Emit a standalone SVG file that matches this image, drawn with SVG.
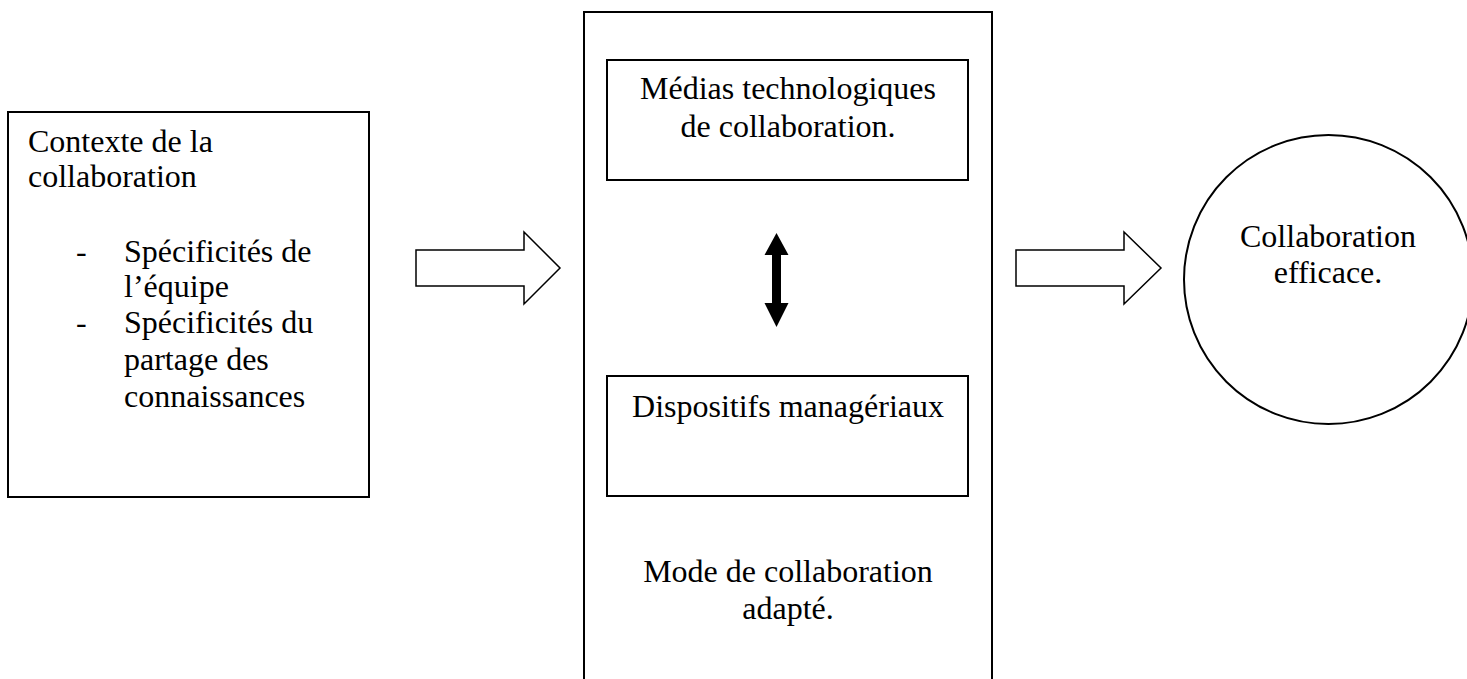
<svg xmlns="http://www.w3.org/2000/svg" width="1467" height="679" viewBox="0 0 1467 679">
<style>
.box{fill:#fff;stroke:#000;stroke-width:2}
.t{font-family:"Liberation Serif","Times New Roman",serif;font-size:32px;fill:#000}
.c{text-anchor:middle}
.hollow{fill:#fff;stroke:#000;stroke-width:1.5;stroke-linejoin:miter}
</style>
<rect width="1467" height="679" fill="#fff"/>
<g id="contexte">
<rect class="box" x="8" y="112" width="361" height="385"/>
<text class="t" x="28" y="152">Contexte de la</text>
<text class="t" x="28" y="187">collaboration</text>
<text class="t" x="76" y="262">-</text>
<text class="t" x="124" y="262">Spécificités de</text>
<text class="t" x="124" y="297">l’équipe</text>
<text class="t" x="76" y="333">-</text>
<text class="t" x="124" y="333">Spécificités du</text>
<text class="t" x="124" y="370">partage des</text>
<text class="t" x="124" y="407">connaissances</text>
</g>
<g id="mode">
<rect class="box" x="584" y="12" width="408" height="700"/>
<text class="t c" x="788" y="582">Mode de collaboration</text>
<text class="t c" x="788" y="619">adapté.</text>
</g>
<g id="medias">
<rect class="box" x="607" y="60" width="361" height="120"/>
<text class="t c" x="788" y="99">Médias technologiques</text>
<text class="t c" x="788" y="137">de collaboration.</text>
</g>
<g id="dispositifs">
<rect class="box" x="607" y="376" width="361" height="120"/>
<text class="t c" x="788" y="417">Dispositifs managériaux</text>
</g>
<g id="resultat">
<ellipse class="box" cx="1328.5" cy="279.5" rx="144.5" ry="144.5"/>
<text class="t c" x="1328" y="247">Collaboration</text>
<text class="t c" x="1328" y="283">efficace.</text>
</g>
<g id="connectors">
<polygon class="hollow" points="416,250 524,250 524,232 560,268 524,304 524,286 416,286"/>
<polygon class="hollow" points="1016,250 1124,250 1124,232 1161,268 1124,304 1124,286 1016,286"/>
<polygon fill="#000" points="776.5,233 788.5,255 781,255 781,303 788.5,303 776.5,327 764.5,303 772,303 772,255 764.5,255"/>
</g>
</svg>
